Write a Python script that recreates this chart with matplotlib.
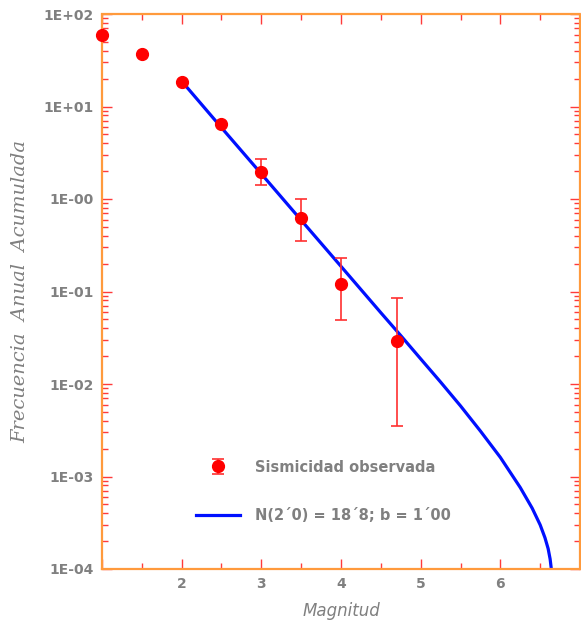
import matplotlib
matplotlib.use("Agg")
import matplotlib.pyplot as plt
import numpy as np
from matplotlib.ticker import FixedLocator, FixedFormatter, LogLocator, NullFormatter

# observed cumulative annual frequency
mag = [1.0, 1.5, 2.0, 2.5, 3.0, 3.5, 4.0, 4.7]
freq = [59.0, 37.0, 18.4, 6.5, 1.95, 0.62, 0.12, 0.029]
freq_low = [59.0, 37.0, 18.4, 6.5, 1.42, 0.355, 0.049, 0.0035]
freq_high = [59.0, 37.0, 18.4, 6.5, 2.73, 0.99, 0.232, 0.085]

# fitted curve
fit_mag = [2.0, 2.5, 3.0, 3.5, 4.0, 4.5, 4.75, 5.0, 5.25, 5.5, 5.75, 6.0,
           6.25, 6.4, 6.5, 6.56, 6.6, 6.625, 6.64]
fit_freq = [18.8, 5.9, 1.87, 0.59, 0.187, 0.059, 0.0334, 0.0187, 0.0105, 0.0058,
            0.0031, 0.00161, 0.00076, 0.000454, 0.00030, 0.000218, 0.000166,
            0.000128, 0.0001]

x_ticks = [1, 2, 3, 4, 5, 6, 7]
x_labels = ['', '2', '3', '4', '5', '6', '']
y_ticks = [1e-4, 1e-3, 1e-2, 1e-1, 1e0, 1e1, 1e2]
y_labels = ['1E-04', '1E-03', '1E-02', '1E-01', '1E-00', '1E+01', '1E+02']

grey = '#808080'
frame = '#ff9a3c'
tickc = '#ff3b3b'

fig = plt.figure(figsize=(5.81, 6.25), dpi=100)
ax = fig.add_axes([102 / 581, 1 - 569 / 625, 478 / 581, 555 / 625])

f = np.array(freq)
yerr = [f - np.array(freq_low), np.array(freq_high) - f]
eb = ax.errorbar(mag, freq, yerr=yerr, fmt='o', color='red', ecolor='#ff3030',
                 markersize=8.5, elinewidth=1.2, capsize=4, capthick=1.2,
                 clip_on=False, zorder=3, label='Sismicidad observada')
ln, = ax.plot(fit_mag, fit_freq, color='#0010ff', lw=2.3, zorder=2,
              solid_joinstyle='round',
              label='N(2\u00b40) = 18\u00b48; b = 1\u00b400')

ax.set_yscale('log')
ax.set_xlim(1, 7)
ax.set_ylim(1e-4, 1e2)

ax.xaxis.set_major_locator(FixedLocator(x_ticks))
ax.xaxis.set_major_formatter(FixedFormatter(x_labels))
ax.xaxis.set_minor_locator(FixedLocator([1.5, 2.5, 3.5, 4.5, 5.5, 6.5]))
ax.yaxis.set_major_locator(FixedLocator(y_ticks))
ax.yaxis.set_major_formatter(FixedFormatter(y_labels))
ax.yaxis.set_minor_locator(LogLocator(base=10, subs=np.arange(2, 10)))
ax.yaxis.set_minor_formatter(NullFormatter())

ax.tick_params(which='both', direction='in', color=tickc, top=True, right=True, width=1)
ax.tick_params(which='major', length=7, labelcolor=grey, labelsize=10, pad=6)
ax.tick_params(which='minor', length=4)
for lab in ax.get_xticklabels() + ax.get_yticklabels():
    lab.set_fontweight('bold')

for s in ax.spines.values():
    s.set_color(frame)
    s.set_linewidth(1.6)
    s.set_linestyle((0, (1, 1)))

ax.set_xlabel('Magnitud', color=grey, fontsize=12, style='italic', labelpad=8)
ax.set_ylabel('Frecuencia  Anual  Acumulada', color=grey, fontsize=14,
              family='DejaVu Serif', style='italic', labelpad=10)

leg = ax.legend([eb, ln], [eb.get_label(), ln.get_label()],
                loc='center left', bbox_to_anchor=(0.17, 0.14), frameon=False,
                handlelength=3, handletextpad=1.0, labelspacing=2.3,
                prop={'weight': 'bold', 'size': 10.5}, labelcolor=grey)

fig.savefig('out.png', dpi=100)
